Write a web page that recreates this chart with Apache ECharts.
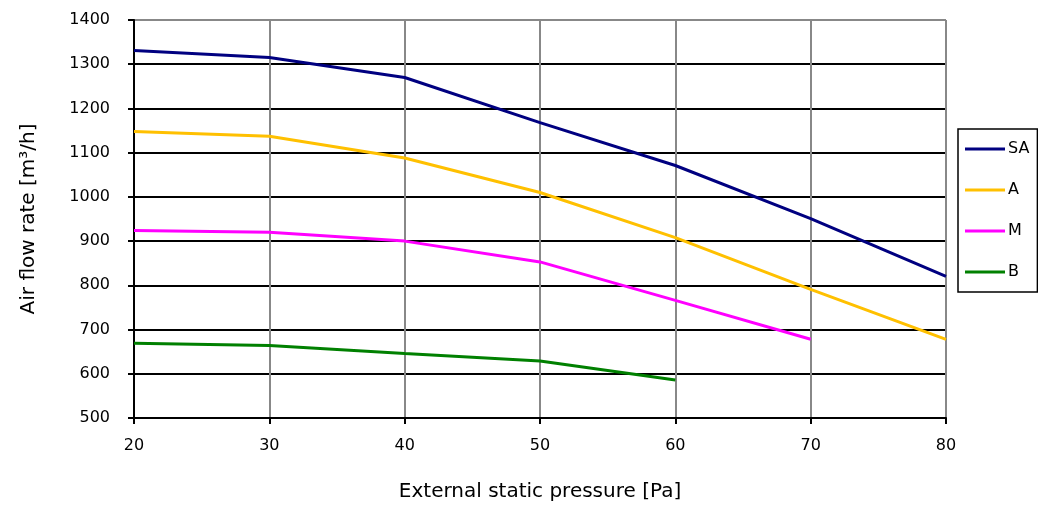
<!DOCTYPE html>
<html>
<head>
<meta charset="utf-8">
<script src="https://cdn.jsdelivr.net/npm/echarts@6/dist/echarts.min.js"></script>
<style>
html,body{margin:0;padding:0;background:#fff;}
#chart{width:1038px;height:509px;}
</style>
</head>
<body>
<div id="chart"></div>
<script>
const pressures = [20, 30, 40, 50, 60, 70, 80];
const seriesNames = ['SA', 'A', 'M', 'B'];
const saValues = [1331, 1315, 1270, 1168, 1071, 951, 820];
const aValues = [1148, 1137, 1088, 1010, 908, 791, 678];
const mValues = [924, 920, 900, 853, 766, 678];
const bValues = [669, 664, 646, 629, 586];
const yTicks = [500, 600, 700, 800, 900, 1000, 1100, 1200, 1300, 1400];

const colors = ['#000080', '#FFC000', '#FF00FF', '#008000'];
const allValues = [saValues, aValues, mValues, bValues];
const font = 'DejaVu Sans';

const chart = echarts.init(document.getElementById('chart'), null, {renderer: 'canvas'});

const series = seriesNames.map((name, i) => ({
  name: name,
  type: 'line',
  data: allValues[i].map((v, j) => [pressures[j], v]),
  symbol: 'none',
  lineStyle: {color: colors[i], width: 3},
  itemStyle: {color: colors[i]},
  z: 5
}));

const splitColors = yTicks.map((t, i) => i === yTicks.length - 1 ? '#888888' : '#000000');

chart.setOption({
  animation: false,
  backgroundColor: '#ffffff',
  textStyle: {fontFamily: font},
  grid: {left: 134, right: 92, top: 20, bottom: 91, containLabel: false},
  legend: {
    orient: 'vertical',
    left: 958,
    top: 129,
    width: 78,
    padding: [12, 8, 12, 7],
    itemGap: 25,
    itemWidth: 40,
    itemHeight: 3,
    borderColor: '#000',
    borderWidth: 1.5,
    textStyle: {fontFamily: font, fontSize: 16, color: '#000', lineHeight: 16, padding: [0, 0, 0, -2]},
    data: seriesNames.map(n => ({name: n, icon: 'rect'}))
  },
  xAxis: {
    type: 'value',
    min: 20, max: 80, interval: 10,
    name: 'External static pressure [Pa]',
    nameLocation: 'middle',
    nameGap: 64,
    nameTextStyle: {fontFamily: font, fontSize: 20, color: '#000'},
    axisLine: {show: true, onZero: false, lineStyle: {color: '#000', width: 2}},
    axisTick: {show: true, length: 6, lineStyle: {color: '#000', width: 2}},
    axisLabel: {fontFamily: font, fontSize: 16, color: '#000', margin: 20, formatter: v => String(v)},
    splitLine: {show: true, lineStyle: {color: '#888888', width: 2}}
  },
  yAxis: {
    type: 'value',
    min: 500, max: 1400, interval: 100,
    name: 'Air flow rate [m³/h]',
    nameLocation: 'middle',
    nameGap: 95,
    nameTextStyle: {fontFamily: font, fontSize: 20, color: '#000'},
    axisLine: {show: true, lineStyle: {color: '#000', width: 2}},
    axisTick: {show: true, length: 6, lineStyle: {color: '#000', width: 2}},
    axisLabel: {fontFamily: font, fontSize: 16, color: '#000', margin: 24, formatter: v => String(v)},
    splitLine: {show: true, lineStyle: {color: splitColors, width: 2}}
  },
  series: series
});
</script>
</body>
</html>
